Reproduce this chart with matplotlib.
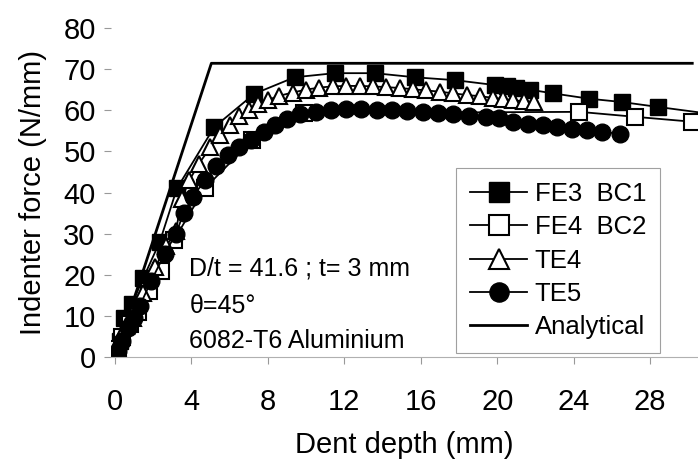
import numpy as np
import matplotlib
matplotlib.use("Agg")
from matplotlib import pyplot as plt

plt.rcParams['font.family'] = ['Liberation Sans', 'DejaVu Sans']

# FE3 BC1 (filled squares)
fe3_x = [0, 0.1, 0.25, 0.5, 0.9, 1.5, 2.35, 3.25, 5.2, 7.3, 9.4, 11.5, 13.6, 15.7,
         17.8, 19.9, 20.5, 21.0, 21.7, 22.9, 24.8, 26.5, 28.4, 31.0]
fe3_y = [0, 1.5, 4, 9.5, 13, 19.3, 28, 41, 55.9, 64, 68, 69, 69, 68,
         67.3, 66.1, 66, 65.3, 65, 64.1, 62.8, 62, 60.8, 59.2]

# FE4 BC2 (open squares)
fe4_x = [0, 0.15, 0.4, 0.8, 1.2, 1.8, 2.4, 3.1, 4.7, 7.2, 9.9, 24.3, 27.2, 30.2]
fe4_y = [0, 2, 5, 8, 11, 16, 21, 28.5, 41, 52.7, 59.3, 59.6, 58.4, 57.2]

# TE4 (open triangles)
te4_x = [0, 0.15, 0.35, 0.6, 0.95, 1.5, 2.1, 2.7, 3.2, 3.5, 3.9, 4.4, 5.0, 5.5,
         6.0, 6.5, 7.0, 7.5, 8.0, 8.6, 9.3, 10.0, 10.7, 11.4, 12.1, 12.8, 13.5,
         14.2, 14.9, 15.6, 16.3, 17.0, 17.7, 18.4, 19.1, 19.8, 20.3, 20.8, 21.4, 21.9]
te4_y = [0, 2, 5, 7.5, 9.6, 15.7, 21.8, 27, 30.7, 38.5, 43, 47, 51, 54,
         56.5, 58.5, 60, 61.5, 62.5, 63.5, 64.3, 65, 65.5, 65.8, 65.9, 65.9, 65.8,
         65.6, 65.4, 65.1, 64.8, 64.5, 64.1, 63.7, 63.4, 63, 62.7, 62.4, 62.2, 62]

# TE5 (filled circles)
te5_x = [0, 0.15, 0.4, 0.7, 1.0, 1.3, 1.9, 2.6, 3.2, 3.6, 4.1, 4.7, 5.3, 5.9,
         6.5, 7.1, 7.8, 8.4, 9.0, 9.7, 10.5, 11.3, 12.1, 12.9, 13.7, 14.5, 15.3,
         16.1, 16.9, 17.7, 18.5, 19.4, 20.1, 20.8, 21.6, 22.4, 23.1, 23.9, 24.7,
         25.5, 26.4]
te5_y = [0, 1.5, 4, 7, 9.5, 12.4, 18.5, 25, 30, 35, 39, 43, 46.5, 49,
         51, 52.7, 54.7, 56.3, 57.8, 59.0, 59.6, 60, 60.2, 60.2, 60.1, 60, 59.8,
         59.6, 59.3, 59, 58.7, 58.4, 58.0, 57.1, 56.7, 56.3, 55.9, 55.5, 55.3,
         54.7, 54.3]

# Analytical
ana_x = [0, 5.05, 30.2]
ana_y = [0, 71.4, 71.4]

fig = plt.figure(figsize=(6.98, 4.73), dpi=100)
ax = fig.add_axes([0.159, 0.245, 0.841, 0.696])

ms = 12
ax.plot(fe3_x, fe3_y, '-s', color='black', lw=1.3, ms=ms, mfc='black', mec='black',
        label='FE3  BC1')
ax.plot(fe4_x, fe4_y, '-s', color='black', lw=1.3, ms=ms, mfc='white', mec='black',
        mew=1.5, label='FE4  BC2')
ax.plot(te4_x, te4_y, '-^', color='black', lw=1.3, ms=ms, mfc='white', mec='black',
        mew=1.5, label='TE4')
ax.plot(te5_x, te5_y, '-o', color='black', lw=1.3, ms=ms, mfc='black', mec='black',
        label='TE5')
ax.plot(ana_x, ana_y, '-', color='black', lw=2, label='Analytical')

ax.set_xlim(-0.2, 30.5)
ax.set_ylim(0, 80)
ax.set_xticks(np.arange(0, 29, 4))
ax.set_yticks(np.arange(0, 81, 10))

for s in ['top', 'right', 'left']:
    ax.spines[s].set_visible(False)
ax.spines['bottom'].set_color('#b0b0b0')
ax.tick_params(axis='both', colors='#999999', labelcolor='black', labelsize=21,
               length=5, width=0.8, direction='out')
ax.tick_params(axis='x', pad=17)
ax.tick_params(axis='y', pad=6)

ax.set_xlabel('Dent depth (mm)', fontsize=21, labelpad=11)
ax.set_ylabel('Indenter force (N/mm)', fontsize=21, labelpad=12)

ax.text(3.9, 21.5, 'D/t = 41.6 ; t= 3 mm', fontsize=18, ha='left', va='center')
ax.text(3.9, 12.4, '\u03b8=45\u00b0', fontsize=18, ha='left', va='center')
ax.text(3.9, 3.9, '6082-T6 Aluminium', fontsize=18, ha='left', va='center')

leg = ax.legend(loc='lower left', bbox_to_anchor=(0.588, 0.012), borderaxespad=0,
                fontsize=18.5, frameon=True, fancybox=False, edgecolor='#888888',
                handlelength=2.2, handletextpad=0.3, labelspacing=0.36,
                borderpad=0.55, markerscale=1.15)
leg.get_frame().set_linewidth(0.8)

fig.savefig('out.png', dpi=100)
